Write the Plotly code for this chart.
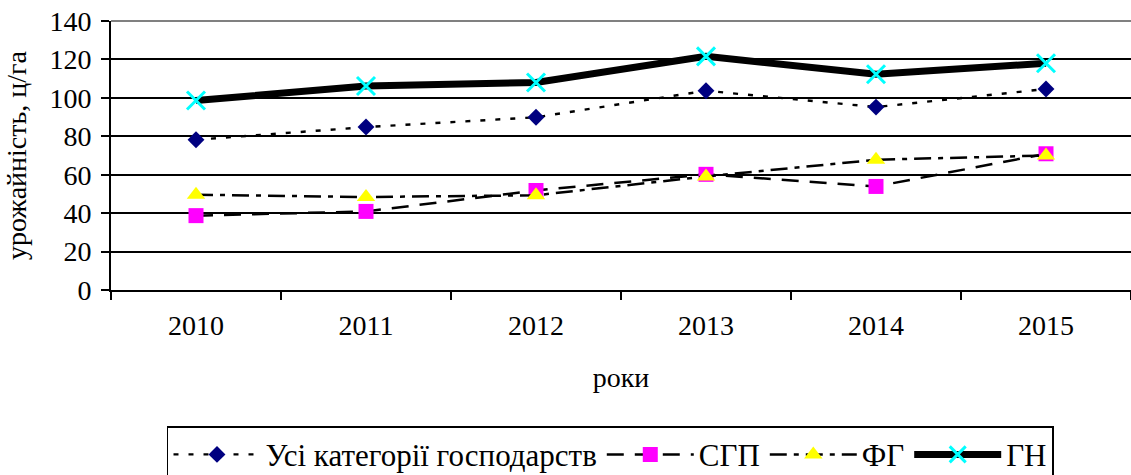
import plotly.graph_objects as go

years = ["2010", "2011", "2012", "2013", "2014", "2015"]
all_cat = [78.2, 84.8, 89.9, 103.7, 95.2, 104.6]
sgp = [38.7, 40.9, 51.8, 60.2, 53.9, 70.9]
fg = [49.6, 48.4, 49.3, 59.1, 67.8, 70.0]
gn = [98.6, 106.2, 108.0, 121.6, 112.3, 118.0]

names = ["Усі категорії господарств", "СГП", "ФГ", "ГН"]
yticks = [0, 20, 40, 60, 80, 100, 120, 140]

FONT = "Liberation Serif"

fig = go.Figure()
fig.add_trace(go.Scatter(
    x=years, y=all_cat, name=names[0], mode="lines+markers",
    line=dict(color="black", width=2.4, dash="5px,10px"),
    marker=dict(symbol="diamond", size=13, color="#000080", line=dict(width=0)),
))
fig.add_trace(go.Scatter(
    x=years, y=sgp, name=names[1], mode="lines+markers",
    line=dict(color="black", width=2.5, dash="17px,11px"),
    marker=dict(symbol="square", size=15, color="#FF00FF", line=dict(width=0)),
))
fig.add_trace(go.Scatter(
    x=years, y=fg, name=names[2], mode="lines+markers",
    line=dict(color="black", width=2.5, dash="17px,7px,5px,7px"),
    marker=dict(symbol="triangle-up", size=16, color="#FFFF00", line=dict(width=0)),
))
fig.add_trace(go.Scatter(
    x=years, y=gn, name=names[3], mode="lines+markers",
    line=dict(color="black", width=7),
    marker=dict(symbol="x-thin-open", size=18, color="#00FFFF",
                line=dict(color="#00FFFF", width=3)),
))

fig.update_layout(
    width=1131, height=475,
    margin=dict(l=111, r=0, t=21, b=184.5, autoexpand=False),
    paper_bgcolor="white", plot_bgcolor="white",
    font=dict(family=FONT, size=28, color="black"),
    showlegend=True,
    legend=dict(
        orientation="h", x=0.0549, xanchor="left", y=-0.5065, yanchor="top",
        bordercolor="black", borderwidth=1.5, itemwidth=87,
        font=dict(family=FONT, size=31, color="black"),
        tracegroupgap=0,
    ),
    shapes=[dict(type="line", xref="paper", yref="paper", x0=0, x1=1, y0=1, y1=1,
                 line=dict(color="#808080", width=2), layer="above")],
)
fig.update_xaxes(
    type="category", tickson="boundaries", ticks="outside", ticklen=8, tickwidth=2,
    tickcolor="black", showline=True, linecolor="black", linewidth=2,
    showgrid=False, ticklabelstandoff=9, automargin=False,
    title=dict(text="роки", standoff=28, font=dict(family=FONT, size=28)),
    range=[-0.5, 5.5],
)
fig.update_yaxes(
    range=[0, 140], tickvals=yticks, ticks="outside", ticklen=8, tickwidth=2,
    tickcolor="black", showline=True, linecolor="black", linewidth=2,
    showgrid=True, gridcolor="black", gridwidth=2, zeroline=False, automargin=False,
    ticklabelstandoff=4, ticklabeloverflow="allow",
    title=dict(text="урожайність, ц/га", standoff=15, font=dict(family=FONT, size=28)),
)

fig.write_html("out.html", config={"displayModeBar": False},
               post_script="document.body.style.margin='0';document.body.style.overflow='hidden';")
